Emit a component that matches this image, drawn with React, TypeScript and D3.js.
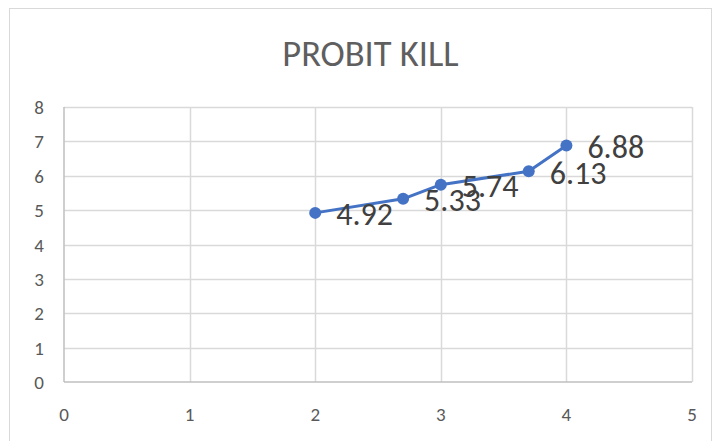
import React, { useEffect, useRef } from 'react'
import * as d3 from 'd3'

// log10 dose vs probit kill
const xValues = [2, 2.7, 3, 3.7, 4]
const yValues = [4.92, 5.33, 5.74, 6.13, 6.88]
const xTicks = [0, 1, 2, 3, 4, 5]
const yTicks = [0, 1, 2, 3, 4, 5, 6, 7, 8]
const chartTitle = 'PROBIT KILL'

export default function App() {
  const svgRef = useRef<SVGSVGElement>(null)

  useEffect(() => {
    const svg = d3.select(svgRef.current)
    svg.selectAll('*').remove()

    const font = 'Carlito, Calibri, "Liberation Sans", Arial, sans-serif'

    // chart frame
    svg.append('rect')
      .attr('x', 9.5).attr('y', 8.5)
      .attr('width', 702).attr('height', 440)
      .attr('fill', '#fff').attr('stroke', '#d9d9d9')

    svg.append('text')
      .attr('x', 370.5).attr('y', 65.5)
      .attr('text-anchor', 'middle')
      .attr('fill', '#5f5f5f')
      .attr('font-family', font)
      .attr('font-size', 36.5)
      .text(chartTitle)

    const x = d3.scaleLinear().domain([0, 5]).range([64, 692])
    const y = d3.scaleLinear().domain([0, 8]).range([382, 107])

    const g = svg.append('g')

    // gridlines
    g.selectAll('line.hgrid')
      .data(yTicks.slice(1))
      .join('line')
      .attr('class', 'hgrid')
      .attr('x1', x(0)).attr('x2', x(5))
      .attr('y1', d => Math.round(y(d)) + 0.5).attr('y2', d => Math.round(y(d)) + 0.5)
      .attr('stroke', '#d9d9d9').attr('stroke-width', 1.5)

    g.selectAll('line.vgrid')
      .data(xTicks.slice(1))
      .join('line')
      .attr('class', 'vgrid')
      .attr('y1', y(0)).attr('y2', y(8))
      .attr('x1', d => Math.round(x(d)) + 0.5).attr('x2', d => Math.round(x(d)) + 0.5)
      .attr('stroke', '#d9d9d9').attr('stroke-width', 1.5)

    // axis lines
    g.append('line')
      .attr('x1', x(0)).attr('x2', x(0)).attr('y1', y(0)).attr('y2', y(8))
      .attr('stroke', '#bfbfbf').attr('stroke-width', 1.5)
    g.append('line')
      .attr('x1', x(0)).attr('x2', x(5)).attr('y1', y(0)).attr('y2', y(0))
      .attr('stroke', '#bfbfbf').attr('stroke-width', 1.5)

    // tick labels
    g.selectAll('text.ytick')
      .data(yTicks)
      .join('text')
      .attr('class', 'ytick')
      .attr('x', 44).attr('y', d => y(d) + 7)
      .attr('text-anchor', 'end')
      .attr('fill', '#595959')
      .attr('font-family', font)
      .attr('font-size', 19)
      .text(d => d)

    g.selectAll('text.xtick')
      .data(xTicks)
      .join('text')
      .attr('class', 'xtick')
      .attr('x', d => x(d)).attr('y', 421)
      .attr('text-anchor', 'middle')
      .attr('fill', '#595959')
      .attr('font-family', font)
      .attr('font-size', 19)
      .text(d => d)

    const pts = xValues.map((v, i) => ({ x: v, y: yValues[i] }))

    const line = d3.line<{ x: number; y: number }>()
      .x(d => x(d.x))
      .y(d => y(d.y))

    g.append('path')
      .datum(pts)
      .attr('d', line)
      .attr('fill', 'none')
      .attr('stroke', '#4472c4')
      .attr('stroke-width', 3)
      .attr('stroke-linejoin', 'round')

    g.selectAll('circle')
      .data(pts)
      .join('circle')
      .attr('cx', d => x(d.x)).attr('cy', d => y(d.y))
      .attr('r', 6)
      .attr('fill', '#4472c4')

    // data labels, right of each point
    g.selectAll('text.lbl')
      .data(pts)
      .join('text')
      .attr('class', 'lbl')
      .attr('x', d => x(d.x) + 21)
      .attr('y', d => y(d.y) + 12.5)
      .attr('fill', '#404040')
      .attr('font-family', font)
      .attr('font-size', 32)
      .text(d => d.y.toFixed(2))
  }, [])

  return (
    <svg
      ref={svgRef}
      width={714}
      height={441}
      style={{ position: 'absolute', left: 0, top: 0, display: 'block' }}
    />
  )
}
